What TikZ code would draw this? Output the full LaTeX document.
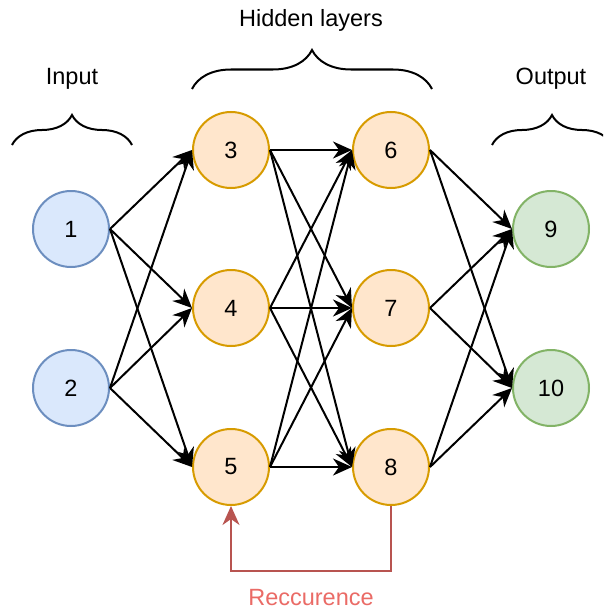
\documentclass[tikz,border=0pt]{standalone}
\usepackage{fontspec}
\setmainfont{Liberation Sans}
\usetikzlibrary{arrows.meta,decorations.pathreplacing}
\definecolor{inline}{HTML}{6C8EBF}
\definecolor{infill}{HTML}{DAE8FC}
\definecolor{hidline}{HTML}{D79B00}
\definecolor{hidfill}{HTML}{FFE6CC}
\definecolor{outline}{HTML}{82B366}
\definecolor{outfill}{HTML}{D5E8D4}
\definecolor{recline}{HTML}{B85450}
\definecolor{rectext}{HTML}{EA6B66}
\tikzset{epais/.style={line width=2pt}}
\newcommand{\neur}[3]{\node[#1] (n#2) at (#3) {#2}}
\newcommand{\conn}[2]{\draw[syn] (n#1.east) -- (n#2.west)}
\newcommand{\brak}[3]{\draw[epais, decorate, decoration={brace, amplitude=#3}] (#1) -- (#2)}

\begin{document}
\begin{tikzpicture}[x=1pt, y=-1pt, font=\fontsize{23.5}{28}\selectfont,
	neuron/.style={circle, minimum size=76pt, inner sep=0pt, epais},
	inp/.style={neuron, draw=inline, fill=infill},
	hid/.style={neuron, draw=hidline, fill=hidfill},
	outp/.style={neuron, draw=outline, fill=outfill},
	tip/.style={-{Stealth[length=19pt, width=17pt, inset=6pt]}},
	syn/.style={epais, tip}]
	\useasboundingbox (0,0) rectangle (603,610);
	\clip (0,0) rectangle (603,610);
%Neurons
	\neur{inp}{1}{71,229};
	\neur{inp}{2}{71,388};
	\neur{hid}{3}{231,150};
	\neur{hid}{4}{231,308};
	\neur{hid}{5}{231,467};
	\neur{hid}{6}{391,150};
	\neur{hid}{7}{391,308};
	\neur{hid}{8}{391,467};
	\neur{outp}{9}{551,229};
	\neur{outp}{10}{551,388};
%Input to hidden
	\foreach \a in {1,2} \foreach \b in {3,4,5} {\conn{\a}{\b};}
%Hidden to hidden
	\foreach \a in {3,4,5} \foreach \b in {6,7,8} {\conn{\a}{\b};}
%Hidden to output
	\foreach \a in {6,7,8} \foreach \b in {9,10} {\conn{\a}{\b};}
%Recurrence
	\draw[epais, recline, tip] (n8.south) -- ++(0,65) -| (n5.south);
	\node[text=rectext] (rec) at (311,598) {Reccurence};
%Braces
	\brak{12,145}{132,145}{30pt};
	\brak{192,89}{432,89}{39pt};
	\brak{492,145}{612,145}{30pt};
	\node (inlab) at (72,79) {Input};
	\node (hidlab) at (311,20) {Hidden layers};
	\node (outlab) at (551,79) {Output};
\end{tikzpicture}
\end{document}
